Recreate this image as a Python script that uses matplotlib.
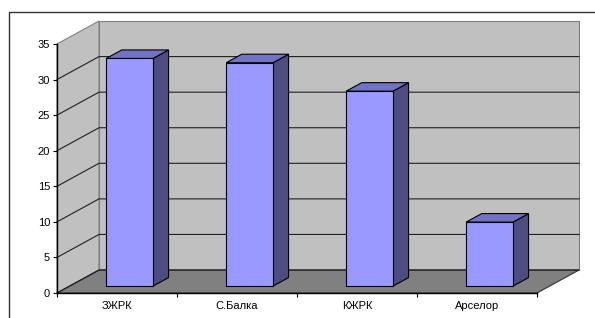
import matplotlib.pyplot as plt
from matplotlib.patches import Polygon
from matplotlib.lines import Line2D

companies = ["ЗЖРК", "С.Балка", "КЖРК", "Арселор"]
values = [32.0, 31.4, 27.4, 9.0]
y_ticks = [0, 5, 10, 15, 20, 25, 30, 35]

plt.rcParams["font.family"] = ["Liberation Sans", "DejaVu Sans"]

# глубина псевдо-3D (в единицах категорий / значений)
DX, DY = 0.35, 3.23
F0, BD = 0.30, 0.37      # начало и глубина столбика по оси глубины
BW = 0.39                # ширина столбика
YMAX = 35

fig = plt.figure(figsize=(5.95, 3.18), dpi=100)
ax = fig.add_axes([57 / 595, 25 / 318, 480 / 595, 249 / 318])
ax.set_xlim(0, len(companies))
ax.set_ylim(0, YMAX)
ax.patch.set_visible(False)

n = len(companies)

def poly(pts, fc, ec, lw=0.8, z=1):
    ax.add_patch(Polygon(pts, closed=True, facecolor=fc, edgecolor=ec,
                         linewidth=lw, clip_on=False, zorder=z))

# стены и пол
poly([(0, 0), (0, YMAX), (DX, YMAX + DY), (DX, DY)], "#c0c0c0", "#808080", z=0)
poly([(DX, DY), (n + DX, DY), (n + DX, YMAX + DY), (DX, YMAX + DY)],
     "#c0c0c0", "#808080", z=0)
poly([(0, 0), (n, 0), (n + DX, DY), (DX, DY)], "#808080", "#303030", z=0.5)

# линии сетки
for t in y_ticks[:-1]:
    ax.add_line(Line2D([0, DX, n + DX], [t, t + DY, t + DY], color="#202020",
                       linewidth=0.8, clip_on=False, zorder=0.6))

# столбики
for i, v in enumerate(values):
    x0 = i + 0.5 - BW / 2 + F0 * DX
    x1 = x0 + BW
    y0 = F0 * DY
    top = v + y0
    ddx, ddy = BD * DX, BD * DY
    poly([(x1, y0), (x1 + ddx, y0 + ddy), (x1 + ddx, top + ddy), (x1, top)],
         "#4d4d80", "black", z=2)
    poly([(x0, top), (x1, top), (x1 + ddx, top + ddy), (x0 + ddx, top + ddy)],
         "#7373c6", "black", z=2)
    poly([(x0, y0), (x1, y0), (x1, top), (x0, top)], "#9999ff", "black", z=2)

# оси
ax.spines["top"].set_visible(False)
ax.spines["right"].set_visible(False)
ax.spines["left"].set_linewidth(1.0)
ax.spines["bottom"].set_linewidth(1.0)
ax.set_yticks(y_ticks)
ax.set_xticks(range(n + 1))
ax.set_xticklabels([])
ax.set_xticks([i + 0.5 for i in range(n)], minor=True)
ax.set_xticklabels(companies, minor=True)
ax.tick_params(axis="y", direction="out", length=3, width=0.8, pad=2, labelsize=8)
ax.tick_params(axis="x", which="major", direction="out", length=3, width=0.8)
ax.tick_params(axis="x", which="minor", length=0, pad=5.5, labelsize=8)

# рамка области диаграммы
fig.add_artist(Line2D([9 / 595, 9 / 595, 1], [0, 1 - 12 / 318, 1 - 12 / 318],
                      transform=fig.transFigure, color="#333333", linewidth=1.0))

fig.savefig("out.png", dpi=100)
